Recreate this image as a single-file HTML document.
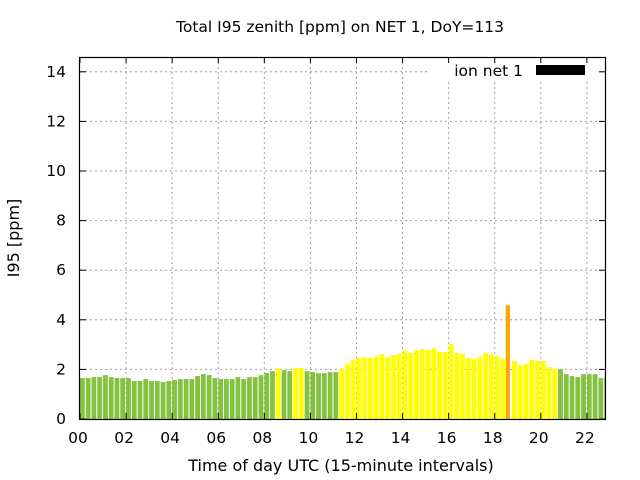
<!DOCTYPE html>
<html><head><meta charset="utf-8"><style>
html,body{margin:0;padding:0;background:#fff;}
svg{display:block;font-family:"DejaVu Sans","Liberation Sans",sans-serif;}
</style></head><body>
<svg id="s" width="640" height="480" xmlns="http://www.w3.org/2000/svg">
<rect width="640" height="480" fill="#fff"/>
<text x="340" y="32" font-size="15.5" text-anchor="middle">Total I95 zenith [ppm] on NET 1, DoY=113</text>
<g id="grid" stroke="#a0a0a0" stroke-width="1" stroke-dasharray="2,3"></g>
<g id="bars"></g>
<rect x="430" y="60" width="170" height="22" fill="#fff"/>
<text x="523" y="76" font-size="15.5" text-anchor="end">ion net 1</text>
<rect x="536" y="65" width="49" height="10" fill="#000"/>
<g id="ticks" stroke="#000" stroke-width="1"></g>
<rect x="79.5" y="57.5" width="526" height="362" fill="none" stroke="#000" stroke-width="1.2"/>
<g id="labels" font-size="15.5"></g>
<text x="341" y="471" font-size="16" text-anchor="middle">Time of day UTC (15-minute intervals)</text>
<text transform="translate(19,238) rotate(-90)" font-size="16" text-anchor="middle">I95 [ppm]</text>
</svg>
<script>
var ns="http://www.w3.org/2000/svg";
function el(p,t,a,txt){var e=document.createElementNS(ns,t);for(var k in a)e.setAttribute(k,a[k]);if(txt!=null)e.textContent=txt;document.getElementById(p).appendChild(e);}
var y0=419,u=24.8,L=80,R=605,T=57,hp=23.04;
for(var v=2;v<=14;v+=2){var y=y0-v*u;el('grid','line',{x1:L,x2:R,y1:y,y2:y});}
for(var h=2;h<=22;h+=2){var x=L+h*hp;el('grid','line',{x1:x,x2:x,y1:T,y2:y0});}
var vals=[1.65,1.65,1.69,1.69,1.77,1.69,1.65,1.65,1.65,1.53,1.53,1.61,1.53,1.53,1.49,1.53,1.57,1.61,1.61,1.61,1.73,1.81,1.77,1.65,1.61,1.61,1.61,1.69,1.61,1.69,1.69,1.77,1.85,1.93,2.05,1.97,1.93,2.05,2.05,1.93,1.89,1.85,1.85,1.89,1.89,2.01,2.21,2.38,2.46,2.50,2.46,2.50,2.62,2.50,2.58,2.62,2.74,2.66,2.78,2.82,2.78,2.86,2.70,2.70,3.02,2.66,2.62,2.46,2.42,2.50,2.66,2.62,2.54,2.42,4.59,2.34,2.17,2.21,2.38,2.34,2.34,2.09,2.01,2.01,1.81,1.73,1.69,1.81,1.81,1.81,1.65,1.69];
var Y={34:1,37:1,38:1};
vals.forEach(function(v,i){var c='#84c241';
 if(i>=45&&i<=82)c='#ffff00'; if(Y[i])c='#ffff00'; if(i==74)c='#ffa500';
 var x=L+i*5.76,w=4.8; if(i==74){x-=0.5;w=4.2;} if(x+w>R)w=R-x;
 el('bars','rect',{x:x,y:y0-v*u,width:w,height:v*u,fill:c});});
for(var v=0;v<=14;v+=2){var y=y0-v*u;el('ticks','line',{x1:L,x2:L+6,y1:y,y2:y});el('ticks','line',{x1:R-6,x2:R,y1:y,y2:y});
 el('labels','text',{x:66,y:y+5,'text-anchor':'end'},String(v));}
for(var h=0;h<=22;h+=2){var x=L+h*hp;el('ticks','line',{x1:x,x2:x,y1:y0,y2:y0-6});el('ticks','line',{x1:x,x2:x,y1:T,y2:T+6});
 el('labels','text',{x:x-2,y:443,'text-anchor':'middle'},(h<10?'0':'')+h);}
</script>
</body></html>
